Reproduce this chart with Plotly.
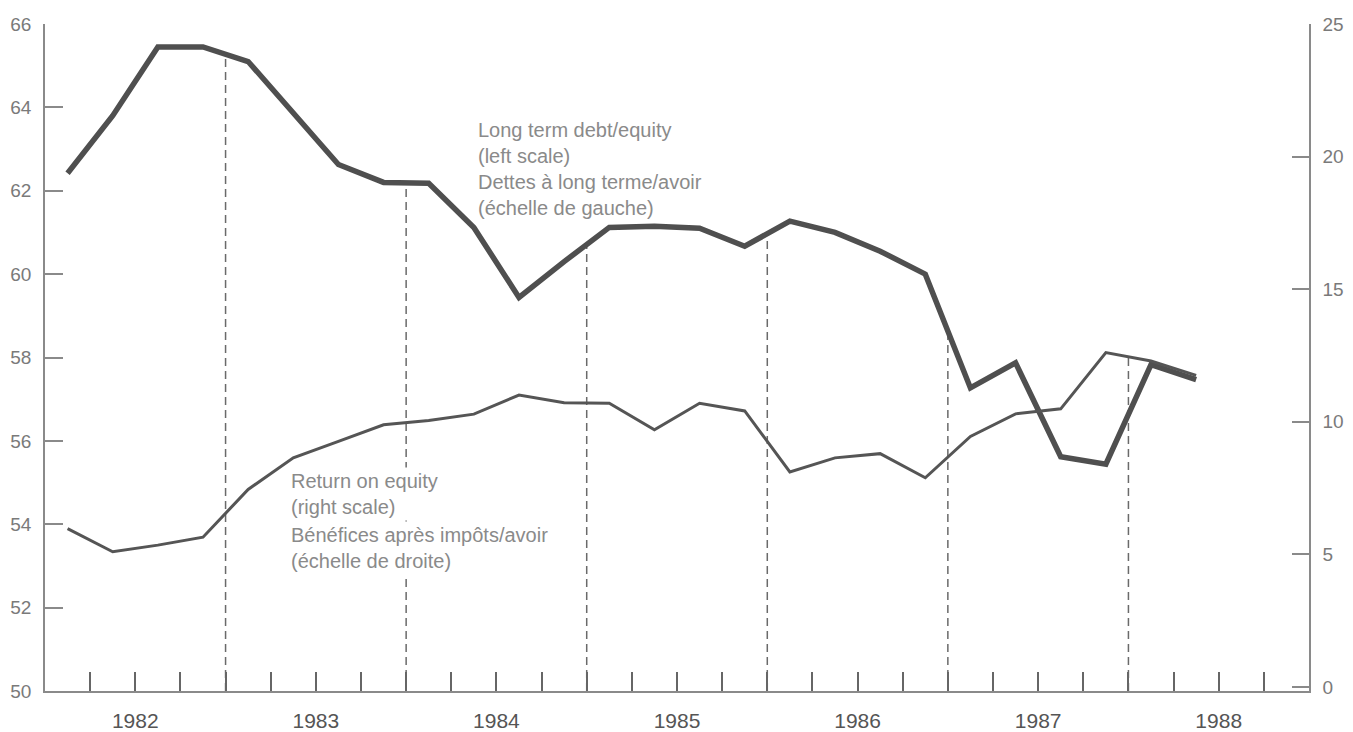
import numpy as np
import plotly.graph_objects as go

# ---- data (quarterly, 1982Q1 .. 1988Q2) ----
quarters = ["1982Q1", "1982Q2", "1982Q3", "1982Q4",
            "1983Q1", "1983Q2", "1983Q3", "1983Q4",
            "1984Q1", "1984Q2", "1984Q3", "1984Q4",
            "1985Q1", "1985Q2", "1985Q3", "1985Q4",
            "1986Q1", "1986Q2", "1986Q3", "1986Q4",
            "1987Q1", "1987Q2", "1987Q3", "1987Q4",
            "1988Q1", "1988Q2"]
debt_equity = [62.42, 63.80, 65.45, 65.45, 65.10, 63.87, 62.63, 62.20,
               62.18, 61.12, 59.44, 60.30, 61.12, 61.15, 61.10, 60.67,
               61.27, 61.00, 60.55, 60.00, 57.27, 57.87, 55.62, 55.44,
               57.83, 57.47]
return_on_equity = [5.97, 5.10, 5.35, 5.65, 7.45, 8.64, 9.26, 9.89,
                    10.05, 10.29, 11.01, 10.72, 10.70, 9.70, 10.70, 10.41,
                    8.11, 8.64, 8.80, 7.89, 9.45, 10.30, 10.49, 12.61,
                    12.29, 11.75]
year_labels = ["1982", "1983", "1984", "1985", "1986", "1987", "1988"]
left_ticks = [50, 52, 54, 56, 58, 60, 62, 64, 66]
right_ticks = [0, 5, 10, 15, 20, 25]

# ---- derived positions ----
def q_to_x(q):
    y, n = int(q[:4]), int(q[-1])
    return y + (n - 0.5) / 4.0

xq = [q_to_x(q) for q in quarters]
years = [int(y) for y in year_labels]
x_range = [years[0], years[-1] + 1]
y_range = [50, 66]
y2_range = [-0.15, 25]

tickvals = [years[0] + 0.25 * k for k in range(1, 4 * len(years))]
ticktext = []
for v in tickvals:
    if abs((v % 1) - 0.5) < 1e-9:
        ticktext.append(str(int(v)))
    else:
        ticktext.append("")

# vertical dashed lines at year boundaries, up to the upper curve
roe_in_left = [y_range[0] + (r - y2_range[0]) / (y2_range[1] - y2_range[0]) * (y_range[1] - y_range[0])
               for r in return_on_equity]
dx, dy = [], []
for yb in years[1:]:
    top = max(np.interp(yb, xq, debt_equity), np.interp(yb, xq, roe_in_left))
    dx += [yb, yb, None]
    dy += [y_range[0], top, None]

line_col = "#4f4f4f"
axis_col = "#8a8a8a"
text_col = "#8a8a8a"
font_fam = "Liberation Sans, Arial, sans-serif"

fig = go.Figure()
fig.add_trace(go.Scatter(x=dx, y=dy, mode="lines",
                         line=dict(color="#6a6a6a", width=1.5, dash="8px,5px"),
                         hoverinfo="skip", showlegend=False))
fig.add_trace(go.Scatter(x=xq, y=return_on_equity, mode="lines", yaxis="y2",
                         line=dict(color="#555555", width=3),
                         name="Return on equity", showlegend=False))
fig.add_trace(go.Scatter(x=xq, y=debt_equity, mode="lines",
                         line=dict(color=line_col, width=5.5),
                         name="Long term debt/equity", showlegend=False))

ann_font = dict(family=font_fam, size=20, color=text_col)
anns = [
    (1984.392, 63.14, "Long term debt/equity<br>(left scale)", False),
    (1984.392, 61.90, "Dettes à long terme/avoir<br>(échelle de gauche)", False),
    (1983.346, 54.73, "Return on equity<br>(right scale)", True),
    (1983.346, 53.43, "Bénéfices après impôts/avoir<br>(échelle de droite)", True),
]
for ax_, ay_, txt, bg in anns:
    fig.add_annotation(x=ax_, y=ay_, xref="x", yref="y", text=txt, showarrow=False,
                       xanchor="left", yanchor="middle", align="left", font=ann_font,
                       bgcolor="white" if bg else "rgba(0,0,0,0)", borderpad=2 if bg else 0)

fig.update_layout(
    width=1353, height=732,
    margin=dict(l=45, r=44, t=24, b=41),
    paper_bgcolor="white", plot_bgcolor="white",
    showlegend=False,
    xaxis=dict(range=x_range, tickvals=tickvals, ticktext=ticktext, automargin=False,
               ticks="inside", ticklen=19, tickwidth=1.5, tickcolor="#666666",
               showline=True, linecolor=axis_col, linewidth=1.5,
               showgrid=False, zeroline=False, ticklabelstandoff=10,
               tickfont=dict(family=font_fam, size=21, color="#555555")),
    yaxis=dict(range=y_range, tickvals=left_ticks, automargin=False,
               ticks="inside", ticklen=18, tickwidth=1.5, tickcolor=axis_col,
               showline=True, linecolor=axis_col, linewidth=1.5,
               showgrid=False, zeroline=False, ticklabelstandoff=8,
               tickfont=dict(family=font_fam, size=19, color="#7a7a7a")),
    yaxis2=dict(range=y2_range, tickvals=right_ticks, overlaying="y", side="right",
                automargin=False,
                ticks="inside", ticklen=17, tickwidth=1.5, tickcolor=axis_col,
                showline=True, linecolor=axis_col, linewidth=1.5,
                showgrid=False, zeroline=False, ticklabelstandoff=8,
                tickfont=dict(family=font_fam, size=19, color="#7a7a7a")),
)

fig.write_html(
    "out.html",
    config={"displayModeBar": False},
    post_script="document.body.style.margin='0px';document.body.style.overflow='hidden';",
)
